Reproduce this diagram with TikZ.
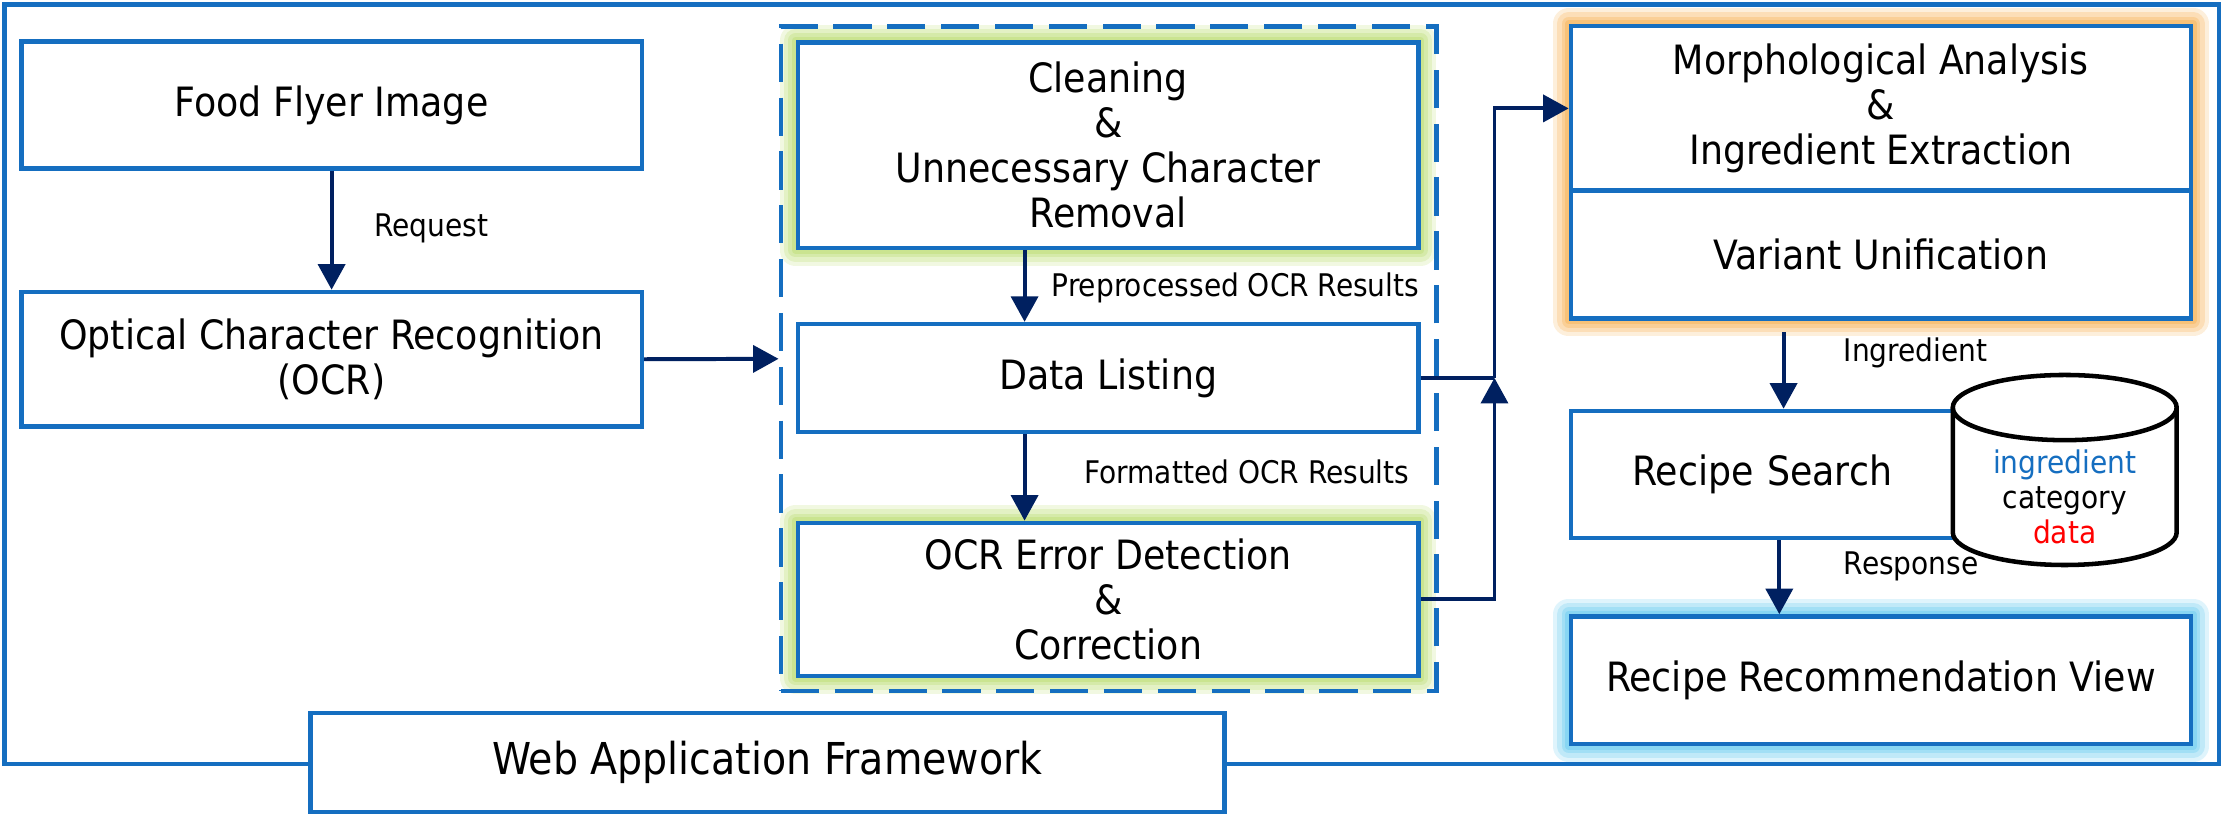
\documentclass[tikz,border=0pt]{standalone}
\usepackage{fontspec}
\setmainfont{DejaVu Sans Condensed}
\usetikzlibrary{arrows.meta,backgrounds}
\definecolor{boxblue}{RGB}{21,110,192}
\definecolor{navy}{RGB}{0,32,96}
\definecolor{glowgreen}{RGB}{190,222,120}
\definecolor{gloworange}{RGB}{247,180,90}
\definecolor{glowcyan}{RGB}{110,205,240}
\newcommand{\bigf}{\fontsize{28.5}{31.8}\selectfont}
\newcommand{\smallf}{\fontsize{22}{24.6}\selectfont}
\newcommand{\waff}{\fontsize{31}{34}\selectfont}
\newcommand{\myglow}[3]{%
  \foreach \w/\o in {22/0.22,16/0.28,10/0.36,5/0.5}{%
    \draw[#3,line width=\w pt,opacity=\o,line join=round] (#1.north west) rectangle (#2.south east);}}
\begin{document}
\begin{tikzpicture}[x=1pt,y=-1pt,
  procbox/.style={draw=boxblue,line width=3.2pt,fill=white,inner sep=0pt,align=center,font=\bigf},
  lbl/.style={anchor=west,inner sep=0pt,font=\smallf},
  arr/.style={draw=navy,line width=2.8pt,-{Triangle[length=18pt,width=19pt]}},
  conn/.style={draw=navy,line width=2.8pt},
  cylline/.style={draw=black,line width=3.2pt}]
\useasboundingbox (0,0) rectangle (1568,574);
% outer frame
\draw[boxblue,line width=3.2pt] (3,3.3) rectangle (1566,539);
% left column
\node[procbox,minimum width=438pt,minimum height=89.4pt] (food) at (234,74.1) {Food Flyer Image};
\node[procbox,minimum width=438pt,minimum height=95pt] (ocr) at (234,253.5) {Optical Character Recognition\\(OCR)};
% dashed group
\node[draw=boxblue,line width=3.2pt,dash pattern=on 27pt off 11pt,minimum width=462.6pt,minimum height=468.8pt,inner sep=0pt] (grp) at (782.3,253.2) {};
\node[procbox,minimum width=438pt,minimum height=145pt] (clean) at (782,102.5) {Cleaning\\\&\\Unnecessary Character\\Removal};
\node[procbox,minimum width=438pt,minimum height=76pt] (dl) at (782,266.7) {Data Listing};
\node[procbox,minimum width=438pt,minimum height=108pt] (err) at (782,423) {OCR Error Detection\\\&\\Correction};
% right column
\node[procbox,minimum width=437.5pt,minimum height=90pt] (var) at (1327.3,179.6) {Variant Unification};
\node[procbox,minimum width=437.5pt,minimum height=116.2pt] (morph) at (1327.3,76.5) {Morphological Analysis\\\&\\Ingredient Extraction};
\node[procbox,minimum width=331.5pt,minimum height=89.5pt,text width=244.5pt,align=left] (rs) at (1274.25,334.75) {Recipe Search};
\node[procbox,minimum width=437.5pt,minimum height=90pt] (rrv) at (1327.3,480) {Recipe Recommendation View};
% database cylinder
\fill[white] (1378,287.6) -- (1378,375.7) arc[start angle=180,end angle=360,x radius=79pt,y radius=23pt] -- (1536,287.6) arc[start angle=0,end angle=180,x radius=79pt,y radius=23pt] -- cycle;
\draw[cylline] (1378,287.6) -- (1378,375.7) arc[start angle=180,end angle=360,x radius=79pt,y radius=23pt] -- (1536,287.6);
\draw[cylline] (1457,287.6) ellipse [x radius=79pt,y radius=23pt];
\node[inner sep=0pt,align=center,font=\smallf] (db) at (1457,350.5) {\textcolor{boxblue}{ingredient}\\category\\\textcolor{red}{data}};
% framework
\node[procbox,font=\waff,minimum width=645pt,minimum height=70pt] (waf) at (541.5,538) {Web Application Framework};
% connectors
\draw[arr] (food.south) -- (ocr.north);
\draw[arr] (ocr.east) -- (grp.west);
\draw[arr] ([xshift=-59pt]clean.south) -- ([xshift=-59pt]dl.north);
\draw[arr] ([xshift=-59pt]dl.south) -- ([xshift=-59pt]err.north);
\coordinate (j) at (1054.6,266.7);
\draw[conn] (dl.east) -- (j);
\draw[arr] (err.east) -| (j);
\draw[arr] (j) |- (morph.west);
\coordinate (ia) at (1258.6,234.5);
\draw[arr] (ia) -- (rs.north -| ia);
\coordinate (ra) at (1255.6,0);
\draw[arr] (rs.south -| ra) -- (rrv.north -| ra);
% labels
\node[lbl] (lreq) at (264,161) {Request};
\node[lbl] (lpre) at (742,203.5) {Preprocessed OCR Results};
\node[lbl] (lfmt) at (765,333) {Formatted OCR Results};
\node[lbl] (ling) at (1301,249) {Ingredient};
\node[lbl] (lresp) at (1301,400) {Response};
% glows
\begin{pgfonlayer}{background}
\myglow{clean}{clean}{glowgreen}
\myglow{err}{err}{glowgreen}
\myglow{morph}{var}{gloworange}
\myglow{rrv}{rrv}{glowcyan}
\end{pgfonlayer}
\end{tikzpicture}
\end{document}
